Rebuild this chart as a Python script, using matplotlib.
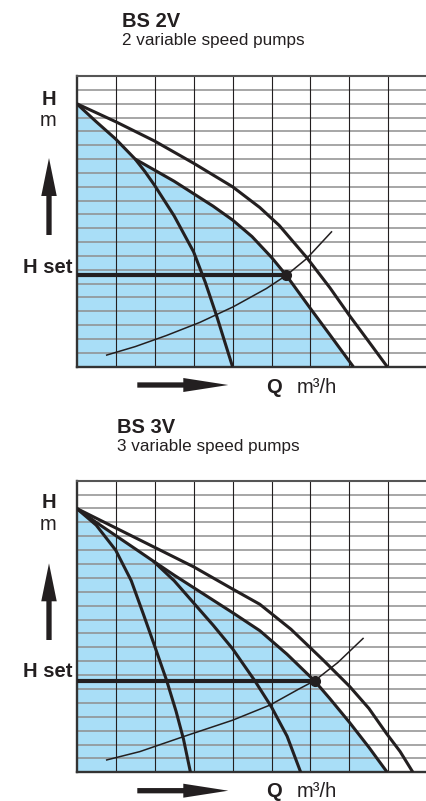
import numpy as np
import matplotlib
matplotlib.use('Agg')
import matplotlib.pyplot as plt

plt.rcParams['font.family'] = ['Liberation Sans', 'DejaVu Sans']

# ---- BS 2V : curves (Q in grid units, H in grid units)
top_A_q = [0, 0.5, 1.0, 1.5, 1.75, 2.0, 2.5, 3.0, 3.3, 3.6, 3.8, 4.0]
top_A_h = [19, 17.7, 16.45, 15.0, 14.1, 13.1, 10.9, 8.3, 6.1, 3.6, 1.8, 0]
top_B_q = [1.5, 2.0, 2.5, 3.0, 3.5, 4.0, 4.5, 5.0, 5.38, 6.0, 6.5, 7.1]
top_B_h = [15.0, 14.2, 13.4, 12.5, 11.6, 10.6, 9.4, 7.9, 6.6, 4.2, 2.3, 0]
top_C_q = [0, 1, 2, 3, 4, 4.7, 5.2, 5.9, 6.5, 7.0, 7.5, 7.97]
top_C_h = [19, 17.7, 16.3, 14.7, 13.0, 11.5, 10.2, 7.9, 5.7, 3.7, 1.8, 0]
top_sys_q = [0.77, 1.5, 2.3, 3.16, 4.02, 4.87, 5.38, 5.9, 6.54]
top_sys_h = [0.84, 1.45, 2.25, 3.2, 4.33, 5.65, 6.6, 7.8, 9.74]
top_branch = 3          # index in A where B leaves it
top_duty = (5.38, 6.6)

# ---- BS 3V
bot_1_q = [0, 0.5, 1.0, 1.4, 1.71, 2.0, 2.31, 2.55, 2.74, 2.92]
bot_1_h = [19, 17.8, 16.0, 13.8, 11.4, 9.1, 6.6, 4.4, 2.4, 0]
bot_3_q = [0, 0.5, 1.0, 1.5, 1.97, 2.5, 3.0, 3.5, 4.0, 4.7, 5.4, 6.1, 6.5, 7.0, 7.5, 7.97]
bot_3_h = [19, 18.0, 17.05, 16.1, 15.2, 14.2, 13.3, 12.4, 11.5, 10.2, 8.5, 6.6, 5.3, 3.6, 1.8, 0]
bot_2_q = [1.97, 2.5, 3.0, 3.5, 4.0, 4.57, 5.0, 5.4, 5.75]
bot_2_h = [15.2, 13.8, 12.2, 10.6, 8.9, 6.6, 4.7, 2.6, 0]
bot_4_q = [0, 1, 2, 3, 4, 4.7, 5.5, 6.32, 7.0, 7.5, 7.95, 8.3, 8.63]
bot_4_h = [19, 17.6, 16.2, 14.8, 13.2, 12.1, 10.3, 8.1, 6.2, 4.6, 2.8, 1.5, 0]
bot_sys_q = [0.77, 1.62, 2.74, 4.0, 4.96, 5.73, 6.11, 6.7, 7.35]
bot_sys_h = [0.89, 1.49, 2.57, 3.75, 4.84, 6.04, 6.6, 7.9, 9.64]
bot_duty = (6.11, 6.6)

INK = '#231f20'
BLUE = '#a9def7'
XMAX = (426 - 76.7) / 38.96
YMAX = 21

fig = plt.figure(figsize=(4.26, 8.01), dpi=100)


def chart(rect, fill_q, fill_h, pumps, sys_q, sys_h, duty):
    ax = fig.add_axes(rect)
    ax.set_xlim(0, XMAX)
    ax.set_ylim(0, YMAX)
    ax.fill(list(fill_q) + [fill_q[-1], 0], list(fill_h) + [0, 0],
            color=BLUE, lw=0, zorder=1)
    ax.hlines(range(1, YMAX), 0, XMAX, color='#8e8e8e', lw=1.1, zorder=1.5)
    ax.vlines(range(1, 9), 0, YMAX, color=INK, lw=0.8, zorder=1.6)
    for q, h in pumps:
        ax.plot(q, h, color=INK, lw=2.2, solid_capstyle='butt',
                solid_joinstyle='round', zorder=3)
    ax.plot(sys_q, sys_h, color=INK, lw=1.1, zorder=3)
    ax.plot([0, duty[0]], [duty[1], duty[1]], color=INK, lw=3.0, zorder=3)
    ax.plot(*duty, 'o', color=INK, ms=7, zorder=4)
    ax.set_xticks([])
    ax.set_yticks([])
    ax.spines['right'].set_visible(False)
    for s in ('left', 'bottom'):
        ax.spines[s].set_linewidth(1.7)
        ax.spines[s].set_color('#333333')
    ax.spines['top'].set_linewidth(1.5)
    ax.spines['top'].set_color('#555555')
    return ax


left = 76.7 / 426
chart([left, (801 - 366.7) / 801, 1 - left, 290.7 / 801],
      top_A_q[:top_branch] + top_B_q, top_A_h[:top_branch] + top_B_h,
      [(top_A_q, top_A_h), (top_B_q, top_B_h), (top_C_q, top_C_h)],
      top_sys_q, top_sys_h, top_duty)

chart([left, (801 - 772.3) / 801, 1 - left, 291.6 / 801],
      bot_3_q, bot_3_h,
      [(bot_1_q, bot_1_h), (bot_2_q, bot_2_h), (bot_3_q, bot_3_h), (bot_4_q, bot_4_h)],
      bot_sys_q, bot_sys_h, bot_duty)

# overlay in pixel coordinates for labels and arrows
ov = fig.add_axes([0, 0, 1, 1])
ov.set_xlim(0, 426)
ov.set_ylim(801, 0)
ov.axis('off')

for y0, title, sub in [(0, 'BS 2V', '2 variable speed pumps'),
                       (400, 'BS 3V', '3 variable speed pumps')]:
    tx = 121.5 if y0 == 0 else 116.7
    ty = 27.3 if y0 == 0 else 33.3
    ov.text(tx, y0 + ty, title, fontsize=14.5, fontweight='bold', color=INK, va='baseline')
    ov.text(tx, y0 + ty + 17.5, sub, fontsize=12.3, color=INK, va='baseline')

for y0, hb, mb, tip, tail, hs, qb, ar_y in [(0, 105, 126, 158, 235, 272.7, 393.3, 385),
                                            (400, 108.3, 130, 163.3, 240, 277.3, 397, 390.7)]:
    ov.text(49, y0 + hb, 'H', fontsize=14.5, fontweight='bold',
            color=INK, ha='center', va='baseline')
    ov.text(48.5, y0 + mb, 'm', fontsize=14.5, color=INK, ha='center', va='baseline')
    ov.arrow(49, y0 + tail, 0, tip - tail, width=5.3, head_width=15.5, head_length=38,
             length_includes_head=True, color=INK, lw=0)
    ov.text(72, y0 + hs, 'H set', fontsize=14.5, fontweight='bold', color=INK,
            ha='right', va='baseline')
    ov.arrow(137.3, y0 + ar_y, 91, 0, width=5.3, head_width=14, head_length=45,
             length_includes_head=True, color=INK, lw=0)
    ov.text(266.5, y0 + qb, 'Q', fontsize=14.5, fontweight='bold', color=INK, va='baseline')
    ov.text(296.5, y0 + qb, 'm³/h', fontsize=14.5, color=INK, va='baseline')

fig.savefig('out.png', dpi=100)
